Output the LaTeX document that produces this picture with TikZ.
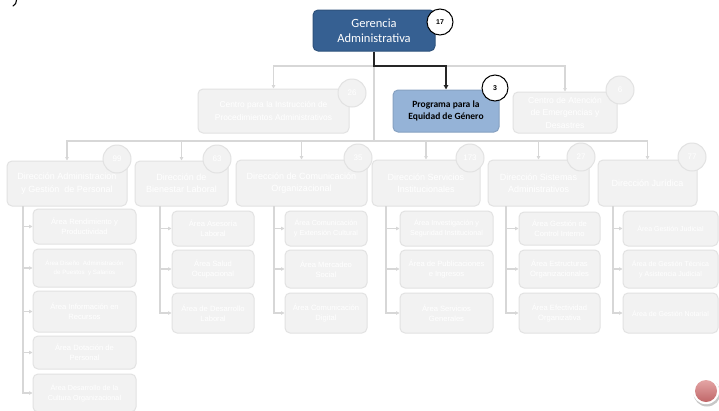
\documentclass[tikz,border=0pt]{standalone}
\usepackage{fontspec}
\setmainfont{Liberation Sans}
\newfontfamily\calibrifont{Carlito}
\usetikzlibrary{arrows.meta}

\definecolor{navy}{RGB}{54,96,146}
\definecolor{skyfill}{RGB}{149,179,215}
\definecolor{greyfill}{RGB}{242,242,242}
\definecolor{greyedge}{RGB}{226,226,226}
\definecolor{greyline}{RGB}{215,215,215}
\definecolor{dotlight}{RGB}{228,165,165}
\definecolor{dotdark}{RGB}{192,102,104}

\tikzset{
  x=1pt, y=-1pt,
  basebox/.style={rounded corners=5pt, align=center, inner sep=0pt, line width=1pt},
  topbox/.style={basebox, fill=navy, draw=navy!85!black, text=white,
    font=\calibrifont\fontsize{12.5}{15}\selectfont},
  bluebox/.style={basebox, fill=skyfill, draw=skyfill!90!black, text=black,
    font=\calibrifont\bfseries\fontsize{9.5}{12.3}\selectfont},
  greybox/.style={basebox, fill=greyfill, draw=greyedge, text=white,
    font=\fontsize{8.4}{12.5}\selectfont},
  dirbox/.style={greybox, font=\fontsize{9}{12.3}\selectfont},
  areabox/.style={greybox, font=\fontsize{7.6}{10}\selectfont},
  badge/.style={circle, fill=white, draw=black, line width=1pt, inner sep=0pt,
    minimum size=26pt, font=\bfseries\fontsize{7}{8}\selectfont},
  greybadge/.style={circle, fill=greyfill, draw=greyedge, line width=1pt, inner sep=0pt,
    minimum size=28pt, text=white, font=\fontsize{8}{9}\selectfont},
  greyconn/.style={draw=greyline, line width=1.2pt, -{Triangle[length=3.5pt,width=3.5pt]}},
  greyrule/.style={draw=greyline, line width=1.2pt},
  darkconn/.style={draw=black!85, line width=1.5pt, -{Triangle[length=4.5pt,width=4.5pt]}}
}

% box from corner (x1,y1) to corner (x2,y2)
\newcommand\orgbox[7]{%
  \node[#7, minimum width={(#4-#2)*1pt}, minimum height={(#5-#3)*1pt}]
    (#1) at ({(#2+#4)/2},{(#3+#5)/2}) {#6};}

\begin{document}
\begin{tikzpicture}
\useasboundingbox (0,0) rectangle (719,410);
\clip (0,0) rectangle (719,410);
\fill[white] (0,0) rectangle (719,410);

% stray stroke in the corner
\draw[line width=1.1pt, line cap=round] (16.5,0) .. controls (16,3.5) .. (13,6);

% junction points of the connectors
\coordinate (jtop) at (374,66);
\coordinate (jmid) at (374,141);
\coordinate (s1) at (23,206);
\coordinate (s2) at (160,206);
\coordinate (s3) at (274,206);
\coordinate (s4) at (386,206);
\coordinate (s5) at (506,206);
\coordinate (s6) at (613,206);

% ---------- top level ----------
\orgbox{ger}{313}{10}{435}{51}{Gerencia\\Administrativa}{topbox}
\orgbox{ci}{198}{89}{349}{133}{Centro para la Instrucción de\\Procedimientos Administrativos}{greybox}
\orgbox{prog}{393}{90}{499}{132}{Programa para la\\Equidad de Género}{bluebox}
\orgbox{cae}{513}{92}{617}{133}{Centro de Atención\\de Emergencias y\\Desastres}{greybox, font=\fontsize{8.6}{12.6}\selectfont}

% ---------- direcciones ----------
\orgbox{d1}{7}{161}{127}{206}{Dirección Administracion\\y Gestión \ de Personal}{dirbox}
\orgbox{d2}{135}{161}{228}{206}{Dirección de\\Bienestar Laboral}{dirbox}
\orgbox{d3}{236}{160}{367}{206}{Dirección de Comunicación\\Organizacional}{dirbox}
\orgbox{d4}{372}{160}{480}{206}{Dirección Servicios\\Institucionales}{dirbox}
\orgbox{d5}{488}{160}{589}{206}{Dirección Sistemas\\Administrativos}{dirbox}
\orgbox{d6}{598}{160}{697}{206}{Dirección Jurídica}{dirbox}

% ---------- áreas ----------
\orgbox{a11}{33}{209}{136}{244}{Área Rendimiento y\\Productividad}{areabox}
\orgbox{a12}{33}{249}{136}{287}{Área Diseño \ Administración\\de Puestos \ y Salarios}{areabox, font=\fontsize{6.2}{9}\selectfont}
\orgbox{a13}{33}{291}{136}{332}{Área Información en\\Recursos}{areabox}
\orgbox{a14}{33}{336}{136}{369}{Área Dotación de\\Personal}{areabox}
\orgbox{a15}{33}{374}{136}{412}{Área Desarrollo de la\\Cultura Organizacional}{areabox, font=\fontsize{7.2}{10}\selectfont}

\orgbox{a21}{172}{211}{254}{246}{Área Asesoría\\Laboral}{areabox}
\orgbox{a22}{172}{250}{254}{288}{Área Salud\\Ocupacional}{areabox}
\orgbox{a23}{172}{293}{254}{333}{Área de Desarrollo\\Laboral}{areabox}

\orgbox{a31}{285}{211}{367}{246}{Área Comunicación\\y Extensión Cultural}{areabox, font=\fontsize{7.2}{10}\selectfont}
\orgbox{a32}{285}{250}{367}{288}{Área Mercadeo\\Social}{areabox}
\orgbox{a33}{285}{293}{367}{333}{Área Comunicación\\Digital}{areabox}

\orgbox{a41}{400}{211}{493}{246}{Área Investigación y\\Seguridad Institucional}{areabox, font=\fontsize{7.2}{10}\selectfont}
\orgbox{a42}{400}{250}{493}{288}{Área de Publicaciones\\e Ingresos}{areabox}
\orgbox{a43}{400}{293}{493}{333}{Área Servicios\\Generales}{areabox}

\orgbox{a51}{519}{212}{600}{245}{Área Gestión de\\Control Interno}{areabox}
\orgbox{a52}{519}{250}{600}{288}{Área Estructuras\\Organizacionales}{areabox}
\orgbox{a53}{519}{293}{600}{333}{Área Efectividad\\Organizativa}{areabox}

\orgbox{a61}{623}{211}{718}{246}{Área Gestión Judicial}{areabox, font=\fontsize{7}{10}\selectfont}
\orgbox{a62}{623}{250}{718}{288}{Área de Gestión Técnica\\y Asistencia Judicial}{areabox, font=\fontsize{7}{10}\selectfont}
\orgbox{a63}{623}{293}{718}{333}{Área de Gestión Notarial}{areabox, font=\fontsize{7}{10}\selectfont}

% ---------- connectors ----------
\draw[greyconn] (jtop) -| (ci.north);
\draw[greyconn] (jtop) -| (cae.north);
\draw[greyrule] (jtop) -- (jmid);
\foreach \d in {d1,d2,d3,d4,d5,d6}{
  \draw[greyconn] (jmid) -| (\d.north);
}
\foreach \s/\a in {s1/a11,s1/a12,s1/a13,s1/a14,s1/a15,
                   s2/a21,s2/a22,s2/a23,
                   s3/a31,s3/a32,s3/a33,
                   s4/a41,s4/a42,s4/a43,
                   s5/a51,s5/a52,s5/a53,
                   s6/a61,s6/a62,s6/a63}{
  \draw[greyconn] (\s) |- (\a.west);
}
\draw[darkconn] (ger.south) -- (jtop) -| (prog.north);

% ---------- head-count badges ----------
\node[badge] (b17) at (440,22) {17};
\node[badge] (b3) at (495,88) {3};
\node[greybadge] (b26) at (352,93) {26};
\node[greybadge] (b6) at (620,90) {6};
\node[greybadge] (b99) at (117,159) {99};
\node[greybadge] (b63) at (217,159) {63};
\node[greybadge] (b35) at (358,158) {35};
\node[greybadge] (b173) at (470,158) {173};
\node[greybadge] (b27) at (581,157) {27};
\node[greybadge] (b77) at (692,157) {77};

% ---------- round button ----------
\fill[black!22] (707,393) circle (13.5);
\fill[white] (706,391) circle (13.2);
\shade[top color=dotlight, bottom color=dotdark] (706,391) circle (11);
\end{tikzpicture}
\end{document}
